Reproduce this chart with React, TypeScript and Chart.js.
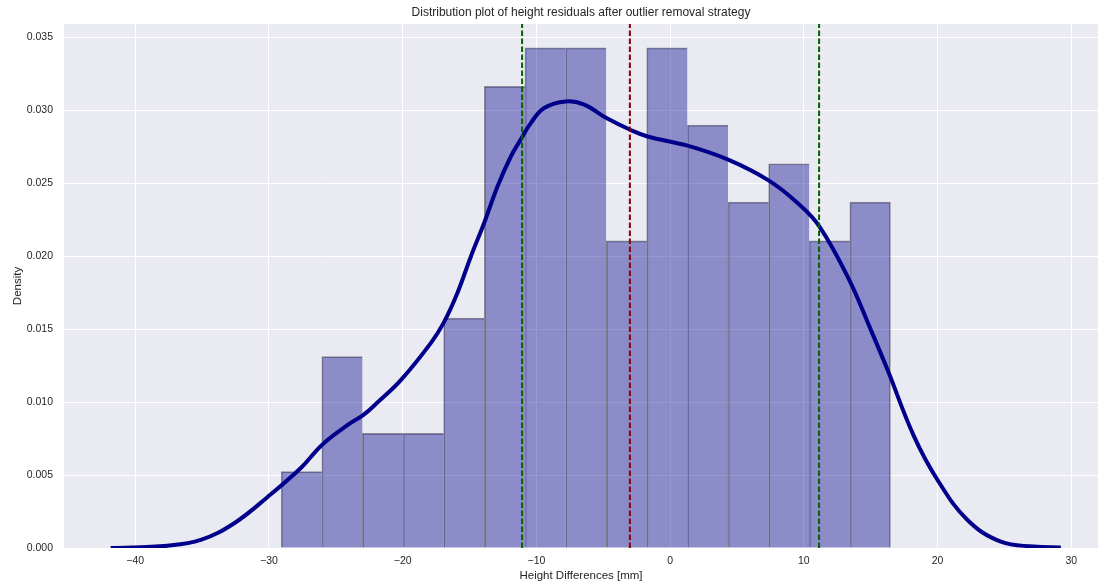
import React, { useEffect, useRef } from "react";
import { Chart, registerables } from "chart.js";

Chart.register(...registerables);

const titleText = "Distribution plot of height residuals after outlier removal strategy";
const xLabel = "Height Differences [mm]";
const yLabel = "Density";

// histogram bin edges (mm) and densities
const binEdges = [-29.09, -26.05, -23.01, -19.98, -16.94, -13.9, -10.86, -7.82, -4.78, -1.75, 1.29, 4.33, 7.37, 10.4, 13.44, 16.48];
const binDensity = [0.00523, 0.01312, 0.00786, 0.00786, 0.01575, 0.03164, 0.03427, 0.03427, 0.02105, 0.03427, 0.02898, 0.0237, 0.02633, 0.02105, 0.0237];

// KDE curve samples
const kdeX = [-41.84, -37.6, -35.1, -32.6, -30.1, -27.6, -26.0, -24.0, -22.96, -21.85, -20.14, -17.9, -16.95, -15.9, -14.9, -13.91, -12.91, -11.91, -11.11, -10.42, -9.42, -7.8, -6.43, -4.76, -2.99, -1.69, 1.3, 4.34, 7.36, 9.53, 11.17, 13.39, 15.01, 16.26, 18.25, 20.0, 22.24, 24.73, 27.2, 29.22];
const kdeY = [0.0, 0.00016, 0.00055, 0.0017, 0.0035, 0.0055, 0.0071, 0.0085, 0.0091, 0.01, 0.0115, 0.01404, 0.01541, 0.0175, 0.01998, 0.02227, 0.02478, 0.02683, 0.02809, 0.02912, 0.03015, 0.0306, 0.03038, 0.02946, 0.02866, 0.0282, 0.02757, 0.02661, 0.02519, 0.02364, 0.02203, 0.01838, 0.01495, 0.01221, 0.00763, 0.00466, 0.00192, 0.00043, 0.0001, 0.00003];

// reference lines
const meanLine = -3.01;
const boundLines = [-11.07, 11.14];

// axes
const xTicks = [-40, -30, -20, -10, 0, 10, 20, 30];
const yTicks = [0, 0.005, 0.01, 0.015, 0.02, 0.025, 0.03, 0.035];
const xMin = -45.33;
const xMax = 32.0;
const yMin = 0;
const yMax = 0.03591;

const FONT = "'Liberation Sans', Arial, sans-serif";
const TEXT = "#262626";

export default function App() {
  const ref = useRef<HTMLCanvasElement | null>(null);

  useEffect(() => {
    if (!ref.current) return;
    const barData = binDensity.map((d, i) => ({ x: (binEdges[i] + binEdges[i + 1]) / 2, y: d }));
    const kdeData = kdeX.map((x, i) => ({ x, y: kdeY[i] }));
    const lastBar = binDensity.length - 1;

    const bgPlugin = {
      id: "bg",
      beforeDraw(chart: any) {
        const { ctx, chartArea: a } = chart;
        ctx.save();
        ctx.fillStyle = "#ffffff";
        ctx.fillRect(0, 0, chart.width, chart.height);
        ctx.fillStyle = "#EAEAF2";
        ctx.fillRect(a.left, a.top, a.right - a.left, a.bottom - a.top);
        ctx.restore();
      },
      afterDraw(chart: any) {
        const { ctx, chartArea: a } = chart;
        ctx.save();
        ctx.fillStyle = TEXT;
        ctx.font = `12px ${FONT}`;
        ctx.textAlign = "center";
        ctx.textBaseline = "middle";
        ctx.fillText(titleText, (a.left + a.right) / 2, 13);
        ctx.restore();
      },
    };

    const vline = (x: number, color: string) => ({
      type: "line" as const,
      data: [
        { x, y: yMin },
        { x, y: yMax },
      ],
      borderColor: color,
      borderWidth: 2,
      borderDash: [5.5, 2.5],
      pointRadius: 0,
      fill: false,
      order: 0,
    });

    const chart = new Chart(ref.current, {
      type: "bar",
      data: {
        datasets: [
          vline(meanLine, "#8B0000") as any,
          vline(boundLines[0], "#006400") as any,
          vline(boundLines[1], "#006400") as any,
          {
            type: "line",
            data: kdeData,
            borderColor: "#00008B",
            borderWidth: 4,
            pointRadius: 0,
            fill: false,
            tension: 0.4,
            order: 1,
          } as any,
          {
            type: "bar",
            data: barData,
            backgroundColor: "rgba(0,0,139,0.4)",
            borderColor: "rgba(0,0,0,0.4)",
            borderWidth: (c: any) => ({ left: 1, top: 1, right: c.dataIndex === lastBar ? 1 : 0, bottom: 0 }),
            borderSkipped: "start",
            barPercentage: 1,
            categoryPercentage: 1,
            order: 2,
          } as any,
        ],
      },
      options: {
        responsive: false,
        animation: false,
        layout: { padding: { top: 24, right: 1, left: 0, bottom: 0 } },
        plugins: { legend: { display: false }, tooltip: { enabled: false }, title: { display: false } },
        scales: {
          x: {
            type: "linear",
            min: xMin,
            max: xMax,
            offset: false,
            border: { display: false },
            grid: { color: "#ffffff", lineWidth: 1, drawTicks: false, offset: false },
            ticks: {
              color: TEXT,
              font: { family: FONT, size: 10.5 },
              padding: 7,
              maxRotation: 0,
              callback: (v: any) => (v < 0 ? "\u2212" + Math.abs(v) : String(v)),
            },
            afterBuildTicks: (s: any) => {
              s.ticks = xTicks.map((v) => ({ value: v }));
            },
            afterFit: (s: any) => {
              s.height = 37;
            },
            title: {
              display: true,
              text: xLabel,
              color: TEXT,
              font: { family: FONT, size: 11.5 },
              padding: { top: 0, bottom: 2 },
            },
          },
          y: {
            type: "linear",
            min: yMin,
            max: yMax,
            border: { display: false },
            grid: { color: "#ffffff", lineWidth: 1, drawTicks: false },
            ticks: {
              color: TEXT,
              font: { family: FONT, size: 10.5 },
              padding: 11,
              callback: (v: any) => Number(v).toFixed(3),
            },
            afterBuildTicks: (s: any) => {
              s.ticks = yTicks.map((v) => ({ value: v }));
            },
            afterFit: (s: any) => {
              s.width = 64;
            },
            title: {
              display: true,
              text: yLabel,
              color: TEXT,
              font: { family: FONT, size: 11.5 },
              padding: { top: 11, bottom: 0 },
            },
          },
        },
      },
      plugins: [bgPlugin],
    });
    return () => chart.destroy();
  }, []);

  return (
    <div style={{ position: "fixed", left: 0, top: 0, width: 1099, height: 585 }}>
      <canvas ref={ref} width={1099} height={585} />
    </div>
  );
}
